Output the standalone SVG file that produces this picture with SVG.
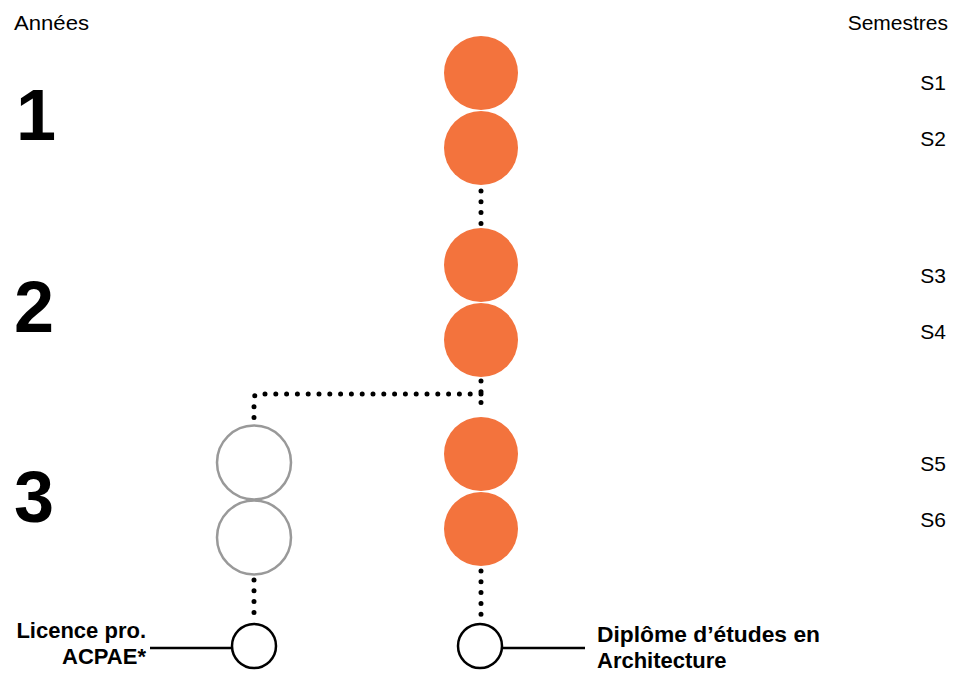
<svg xmlns="http://www.w3.org/2000/svg" width="953" height="674" viewBox="0 0 953 674">
<style>
.lbl{font-family:"Liberation Sans",Arial,sans-serif;font-size:21px;fill:#000}
.big{font-family:"Liberation Sans",Arial,sans-serif;font-size:72px;font-weight:bold;fill:#000}
.bold{font-family:"Liberation Sans",Arial,sans-serif;font-size:22px;font-weight:bold;fill:#000}
.sem{fill:#F3733D}
.opt{fill:#fff;stroke:#999;stroke-width:2.5}
.end{fill:#fff;stroke:#000;stroke-width:2.5}
.dot{fill:none;stroke:#000;stroke-width:5;stroke-linecap:round;stroke-dasharray:0 10.8}
.line{fill:none;stroke:#000;stroke-width:2.5}
</style>
<rect width="953" height="674" fill="#fff"/>
<text class="lbl" x="14" y="30" textLength="75" lengthAdjust="spacingAndGlyphs">Années</text>
<text class="lbl" x="948" y="30" text-anchor="end">Semestres</text>
<text class="big" x="16" y="140">1</text>
<text class="big" x="14" y="332">2</text>
<text class="big" x="14" y="522">3</text>
<text class="lbl" x="946" y="90" text-anchor="end">S1</text>
<text class="lbl" x="946" y="146" text-anchor="end">S2</text>
<text class="lbl" x="946" y="283" text-anchor="end">S3</text>
<text class="lbl" x="946" y="339" text-anchor="end">S4</text>
<text class="lbl" x="946" y="471" text-anchor="end">S5</text>
<text class="lbl" x="946" y="527" text-anchor="end">S6</text>
<g id="connectors">
<path class="dot" d="M481 191 V224"/>
<path class="dot" d="M481 381 V413"/>
<path class="dot" d="M481 394 H259 Q254 394 254 399 V421"/>
<path class="dot" d="M481 571 V620"/>
<path class="dot" d="M254 580 V620"/>
<path class="line" d="M150 648 H232"/>
<path class="line" d="M502 648 H585"/>
</g>
<g id="s1"><circle class="sem" cx="481" cy="73" r="37"/></g>
<g id="s2"><circle class="sem" cx="481" cy="148" r="37"/></g>
<g id="s3"><circle class="sem" cx="481" cy="265" r="37"/></g>
<g id="s4"><circle class="sem" cx="481" cy="340" r="37"/></g>
<g id="s5"><circle class="sem" cx="481" cy="454" r="37"/></g>
<g id="s6"><circle class="sem" cx="481" cy="529" r="37"/></g>
<g id="lp1"><circle class="opt" cx="254" cy="462.5" r="37"/></g>
<g id="lp2"><circle class="opt" cx="254" cy="537.5" r="37"/></g>
<g id="licence">
<circle class="end" cx="254" cy="646" r="22"/>
<text class="bold" x="146" y="638" text-anchor="end">Licence pro.</text>
<text class="bold" x="146" y="664" text-anchor="end">ACPAE*</text>
</g>
<g id="diplome">
<circle class="end" cx="480" cy="646" r="22"/>
<text class="bold" x="597" y="642" textLength="223" lengthAdjust="spacingAndGlyphs">Diplôme d’études en</text>
<text class="bold" x="597" y="668">Architecture</text>
</g>
</svg>
